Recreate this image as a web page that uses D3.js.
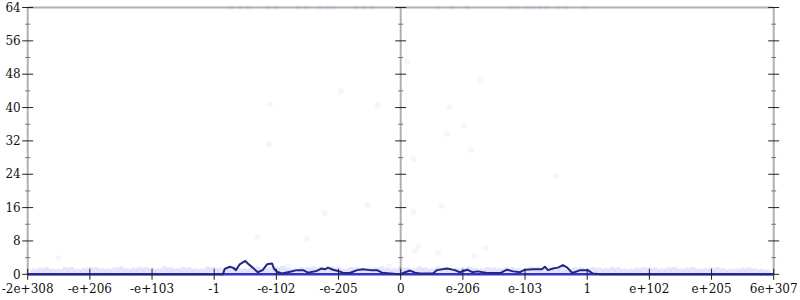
<!DOCTYPE html>
<html>
<head>
<meta charset="utf-8">
<script src="https://cdn.jsdelivr.net/npm/d3@7"></script>
<style>
  body { margin: 0; background: #fff; }
  svg text { font-family: "DejaVu Serif", serif; font-size: 12px; fill: #111; }
</style>
</head>
<body>
<div id="chart"></div>
<script>
// Tick labels along the bit-pattern axis (one label per unit)
var xTickLabels = ["-2e+308", "-e+206", "-e+103", "-1", "-e-102", "-e-205", "0",
  "e-206", "e-103", "1", "e+102", "e+205", "6e+307"];
var yTicks = [0, 8, 16, 24, 32, 40, 48, 56, 64];
var yMinorTicks = [4, 12, 20, 28, 36, 44, 52, 60];

// histogram line: [position, count]
var histLine = [
  [-6, 0], [-2.86, 0], [-2.83, 1.3], [-2.75, 1.8], [-2.70, 1.6], [-2.65, 1.0],
  [-2.59, 2.4], [-2.50, 3.2], [-2.46, 2.6], [-2.38, 1.6], [-2.30, 0.5], [-2.22, 1.0],
  [-2.15, 2.4], [-2.07, 2.6], [-2.04, 1.4], [-1.99, 0.6], [-1.91, 0.2], [-1.78, 0.6],
  [-1.67, 1.0], [-1.57, 1.0], [-1.49, 0.4], [-1.35, 0.8], [-1.27, 1.4], [-1.22, 1.2],
  [-1.17, 1.6], [-1.09, 1.1], [-1.01, 0.8], [-0.93, 0.4], [-0.82, 0.3], [-0.70, 1.0],
  [-0.61, 1.2], [-0.49, 1.0], [-0.38, 1.0], [-0.30, 0.4], [-0.17, 0.2], [-0.01, 0],
  [0.07, 0.5], [0.15, 0.9], [0.23, 0.4], [0.31, 0.2], [0.52, 0.2], [0.58, 1.0],
  [0.75, 1.4], [0.87, 1.0], [0.95, 0.5], [1.07, 1.1], [1.15, 0.5], [1.24, 0.7],
  [1.39, 0.3], [1.60, 0.3], [1.71, 1.1], [1.81, 0.7], [1.92, 0.5], [2.00, 1.1],
  [2.13, 1.2], [2.27, 1.2], [2.32, 1.8], [2.37, 1.0], [2.45, 1.4], [2.53, 1.6],
  [2.61, 2.2], [2.68, 1.6], [2.76, 0.3], [2.89, 1.0], [3.01, 1.0], [3.09, 0.2],
  [3.21, 0], [6, 0]
];

// scattered samples: [position, value]
var scatterPts = [
  [-5.50, 3.9], [-0.53, 16.6], [-1.22, 14.7], [-2.31, 8.9], [-1.51, 8.5], [-1.81, 2.0],
  [-0.19, 1.8], [0.20, 15.0], [0.66, 16.4], [0.23, 5.6], [0.28, 6.8], [0.60, 5.1],
  [1.18, 4.4], [1.37, 6.3], [-0.96, 44.0], [0.10, 51.0], [1.28, 46.6], [-2.10, 40.8],
  [-0.37, 40.6], [-2.12, 31.2], [0.78, 40.1], [1.02, 35.6], [0.75, 33.6], [1.13, 29.8],
  [0.21, 27.6], [2.50, 23.6]
];

// samples clipped at the top
var topPts = [-2.74, -2.58, -2.45, -2.13, -2.00, -1.65, -1.52, -1.29, -1.18, -1.08,
  -0.72, -0.59, -0.46, 0.60, 0.82, 1.07, 1.77, 1.87, 2.04, 2.12, 2.25, 2.35, 2.54, 2.66, 2.96];

// dense samples near zero
var bandPts = [
  [-5.9, 0.6], [-5.7, 0.9], [-5.5, 0.5], [-5.3, 1.0], [-5.1, 0.7], [-4.9, 0.9],
  [-4.7, 0.6], [-4.5, 1.1], [-4.3, 0.8], [-4.1, 1.0], [-3.9, 0.6], [-3.7, 0.9],
  [-3.5, 1.0], [-3.3, 0.7], [-3.1, 1.1], [-2.9, 0.8], [-2.7, 1.0], [-2.5, 0.6],
  [-2.3, 1.1], [-2.1, 0.9], [-1.9, 1.2], [-1.7, 0.7], [-1.5, 1.0], [-1.3, 0.9],
  [-1.1, 1.1], [-0.9, 0.6], [-0.7, 1.0], [-0.5, 0.8], [-0.3, 1.1], [-0.1, 0.7],
  [0.1, 0.9], [0.3, 1.1], [0.5, 0.7], [0.7, 1.0], [0.9, 0.8], [1.1, 1.1],
  [1.3, 0.6], [1.5, 0.9], [1.7, 1.0], [1.9, 0.7], [2.1, 1.1], [2.3, 0.8],
  [2.5, 1.0], [2.7, 0.6], [2.9, 0.9], [3.1, 1.0], [3.3, 0.7], [3.5, 0.9],
  [3.7, 0.6], [3.9, 1.0], [4.1, 0.8], [4.3, 0.9], [4.5, 0.6], [4.7, 1.0],
  [4.9, 0.7], [5.1, 0.9], [5.3, 0.5], [5.5, 0.8], [5.7, 0.6], [5.9, 0.4],
  [-5.8, 0.8], [-5.6, 0.6], [-5.4, 0.9], [-5.2, 0.5], [-5.0, 1.0], [-4.8, 0.7],
  [-4.6, 0.9], [-4.4, 0.6], [-4.2, 1.0], [-4.0, 0.8], [-3.8, 1.1], [-3.6, 0.7],
  [-3.4, 0.9], [-3.2, 0.6], [-3.0, 1.0], [-2.8, 0.9], [-2.6, 0.7], [-2.4, 1.0],
  [-2.2, 0.8], [-2.0, 1.1], [-1.8, 0.6], [-1.6, 0.9], [-1.4, 1.1], [-1.2, 0.7],
  [-1.0, 0.9], [-0.8, 1.0], [-0.6, 0.7], [-0.4, 0.9], [-0.2, 0.6], [0.0, 1.0],
  [0.2, 0.7], [0.4, 0.9], [0.6, 1.1], [0.8, 0.6], [1.0, 0.9], [1.2, 0.8],
  [1.4, 1.0], [1.6, 0.7], [1.8, 0.9], [2.0, 0.6], [2.2, 1.0], [2.4, 0.7],
  [2.6, 0.9], [2.8, 1.0], [3.0, 0.7], [3.2, 0.8], [3.4, 1.0], [3.6, 0.6],
  [3.8, 0.8], [4.0, 0.9], [4.2, 0.6], [4.4, 1.0], [4.6, 0.8], [4.8, 0.6],
  [5.0, 0.9], [5.2, 0.7], [5.4, 0.6], [5.6, 0.9], [5.8, 0.5]
];

var chart = chart || {};

chart.width = 800;
chart.height = 300;
chart.left = 27.7;
chart.right = 773.7;
chart.top = 7.5;
chart.bottom = 274.3;

chart.build = function() {
  var svg = d3.select("#chart").append("svg")
      .attr("width", chart.width).attr("height", chart.height);

  var x = d3.scaleLinear().domain([-6, 6]).range([chart.left, chart.right]);
  var y = d3.scaleLinear().domain([0, 64]).range([chart.bottom, chart.top]);

  // frame: top line, left/right/center axes
  svg.append("line").attr("x1", x(-6)).attr("x2", x(6))
      .attr("y1", y(64)).attr("y2", y(64))
      .attr("stroke", "#b0b0b0").attr("stroke-width", 2);

  [-6, 0, 6].forEach(function(p) {
    var g = svg.append("g").attr("transform", "translate(" + x(p) + ",0)");
    g.append("line").attr("y1", y(64)).attr("y2", y(0))
        .attr("stroke", "#b0b0b0").attr("stroke-width", 2);
    g.selectAll(".major").data(yTicks).enter().append("line")
        .attr("x1", -5.5).attr("x2", 5.5)
        .attr("y1", function(d) { return y(d); }).attr("y2", function(d) { return y(d); })
        .attr("stroke", "#222").attr("stroke-width", 1);
    g.selectAll(".minor").data(yMinorTicks).enter().append("line")
        .attr("x1", -2.5).attr("x2", 2.5)
        .attr("y1", function(d) { return y(d); }).attr("y2", function(d) { return y(d); })
        .attr("stroke", "#777").attr("stroke-width", 1);
  });

  // y labels
  svg.selectAll(".ylab").data(yTicks).enter().append("text")
      .attr("x", chart.left - 7).attr("y", function(d) { return y(d); })
      .attr("dy", "0.35em").attr("text-anchor", "end")
      .text(function(d) { return d; });

  // points
  var dotColor = "#3a3ae0";
  svg.selectAll(".band").data(bandPts).enter().append("circle")
      .attr("cx", function(d) { return x(d[0]); }).attr("cy", function(d) { return y(d[1]); })
      .attr("r", 3.5).attr("fill", dotColor).attr("fill-opacity", 0.13);
  svg.selectAll(".pt").data(scatterPts).enter().append("circle")
      .attr("cx", function(d) { return x(d[0]); }).attr("cy", function(d) { return y(d[1]); })
      .attr("r", 3).attr("fill", dotColor).attr("fill-opacity", 0.05);
  svg.selectAll(".toppt").data(topPts).enter().append("circle")
      .attr("cx", function(d) { return x(d); }).attr("cy", y(64))
      .attr("r", 3).attr("fill", dotColor).attr("fill-opacity", 0.05);

  // zero line and histogram
  svg.append("line").attr("x1", x(-6)).attr("x2", x(6))
      .attr("y1", y(0)).attr("y2", y(0))
      .attr("stroke", "#3434c8").attr("stroke-width", 2.5);

  var line = d3.line()
      .x(function(d) { return x(d[0]); })
      .y(function(d) { return y(d[1]); });
  svg.append("path").datum(histLine).attr("d", line)
      .attr("fill", "none").attr("stroke", "#252585").attr("stroke-width", 2)
      .attr("stroke-linejoin", "round");

  // x axis ticks and labels
  var xAxis = svg.append("g");
  xAxis.selectAll(".xt").data(xTickLabels).enter().append("line")
      .attr("x1", function(d, i) { return x(i - 6); })
      .attr("x2", function(d, i) { return x(i - 6); })
      .attr("y1", y(0) - 5.5).attr("y2", y(0) + 5.5)
      .attr("stroke", "#222").attr("stroke-width", 1);
  xAxis.selectAll(".xl").data(xTickLabels).enter().append("text")
      .attr("x", function(d, i) { return x(i - 6); })
      .attr("y", 293).attr("text-anchor", "middle")
      .text(function(d) { return d; });
}

chart.build();
</script>
</body>
</html>
